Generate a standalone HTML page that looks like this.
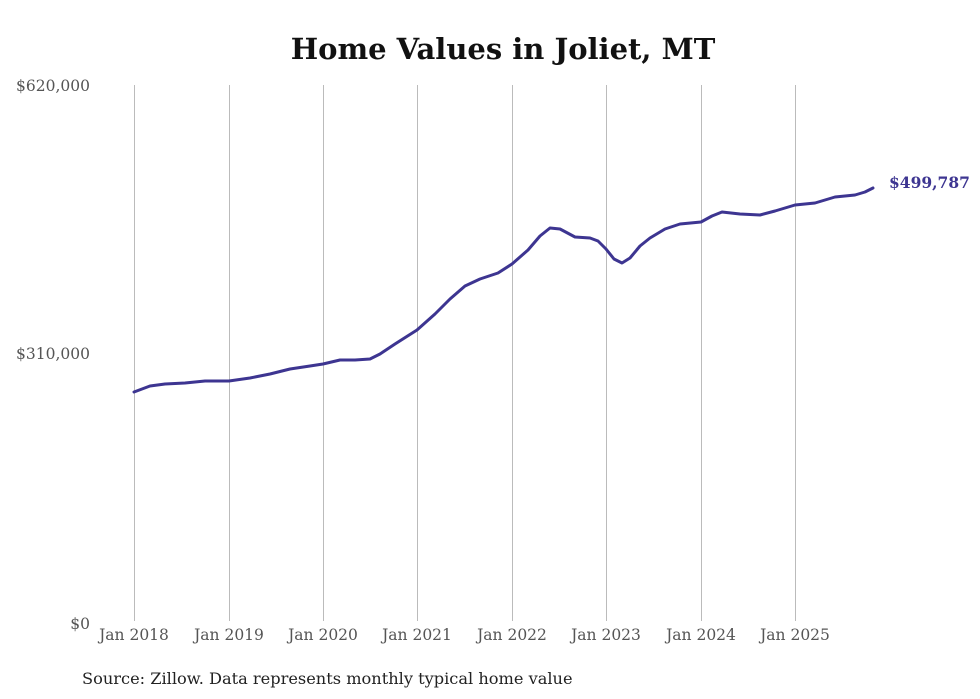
<!DOCTYPE html>
<html><head><style>
body{margin:0;background:#fff;}
svg{display:block;}
text{font-family:"DejaVu Serif","Liberation Serif",serif;}
</style></head><body>
<svg width="980" height="699" viewBox="0 0 980 699" xmlns="http://www.w3.org/2000/svg">
<rect width="980" height="699" fill="#fff"/>
<text x="503" y="59" text-anchor="middle" font-size="29" font-weight="bold" fill="#111">Home Values in Joliet, MT</text>
<g stroke="#bbb" stroke-width="1">
<line x1="134.5" y1="85" x2="134.5" y2="621"/>
<line x1="229.5" y1="85" x2="229.5" y2="621"/>
<line x1="323.5" y1="85" x2="323.5" y2="621"/>
<line x1="417.5" y1="85" x2="417.5" y2="621"/>
<line x1="512.5" y1="85" x2="512.5" y2="621"/>
<line x1="606.5" y1="85" x2="606.5" y2="621"/>
<line x1="701.5" y1="85" x2="701.5" y2="621"/>
<line x1="795.5" y1="85" x2="795.5" y2="621"/>
</g>
<g font-size="15.5" fill="#555" text-anchor="end">
<text x="90" y="91">$620,000</text>
<text x="90" y="359">$310,000</text>
<text x="90" y="629">$0</text>
</g>
<g font-size="15.5" fill="#555" text-anchor="middle">
<text x="134" y="640">Jan 2018</text>
<text x="229" y="640">Jan 2019</text>
<text x="323" y="640">Jan 2020</text>
<text x="417" y="640">Jan 2021</text>
<text x="512" y="640">Jan 2022</text>
<text x="606" y="640">Jan 2023</text>
<text x="701" y="640">Jan 2024</text>
<text x="795" y="640">Jan 2025</text>
</g>
<path fill="none" stroke="#3d3591" stroke-width="3" stroke-linejoin="round" stroke-linecap="round"
d="M134,392 L150,386 L165,384 L185,383 L205,381 L229,381 L250,378 L270,374 L290,369 L310,366 L323,364 L340,360 L355,360 L370,359 L380,354 L395,344 L417,330 L435,314 L450,299 L465,286 L480,279 L498,273 L512,264 L528,250 L540,236 L550,228 L560,229 L575,237 L590,238 L598,241 L606,249 L614,259 L622,263 L630,258 L640,246 L650,238 L665,229 L680,224 L701,222 L712,216 L722,212 L740,214 L760,215 L775,211 L795,205 L805,204 L815,203 L835,197 L855,195 L865,192 L873,188"/>
<text x="889" y="188" font-size="15.5" font-weight="bold" fill="#3d3591">$499,787</text>
<text x="82" y="684" font-size="16.2" fill="#222">Source: Zillow. Data represents monthly typical home value</text>
</svg>
</body></html>
